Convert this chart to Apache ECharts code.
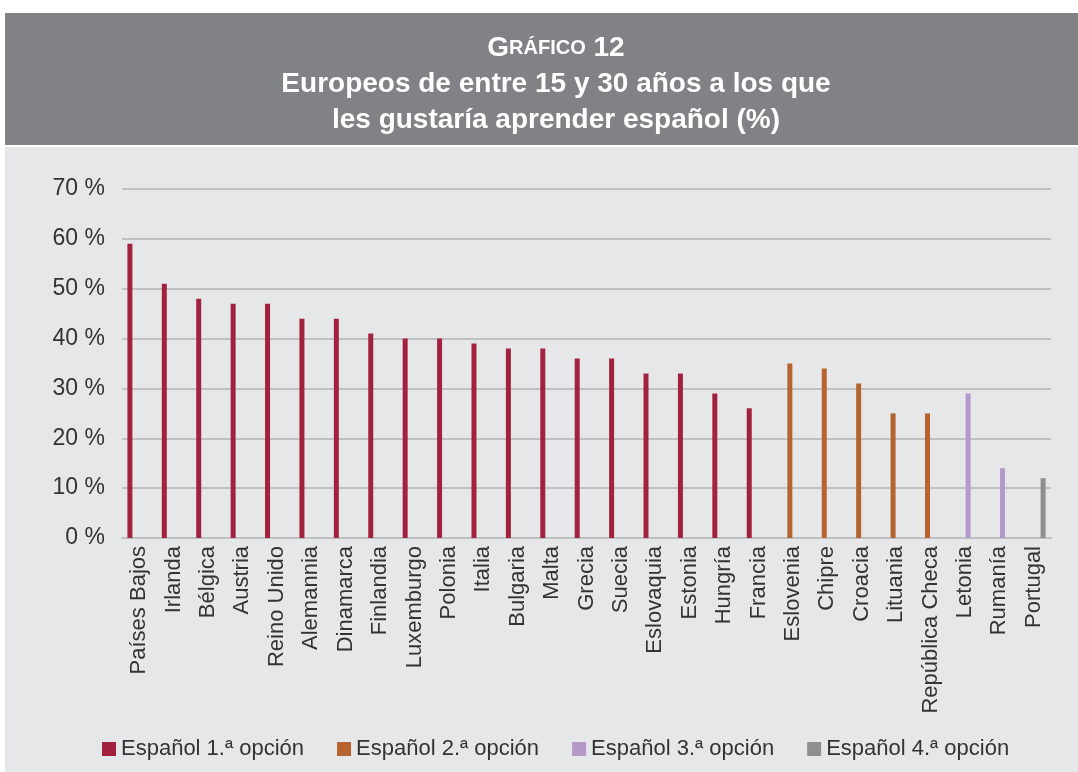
<!DOCTYPE html>
<html lang="es">
  <head>
    <meta charset="UTF-8" />
    <title>Gráfico 12</title>
    <style>
      html, body { margin: 0; padding: 0; background: #fff; }
      #main { width: 1078px; height: 772px; }
    </style>
  </head>
  <body>
    <script src="https://cdn.jsdelivr.net/npm/echarts@6/dist/echarts.min.js"></script>
    <div id="main"></div>
    <script>
      const countries = ['Países Bajos', 'Irlanda', 'Bélgica', 'Austria', 'Reino Unido', 'Alemannia',
        'Dinamarca', 'Finlandia', 'Luxemburgo', 'Polonia', 'Italia', 'Bulgaria', 'Malta', 'Grecia',
        'Suecia', 'Eslovaquia', 'Estonia', 'Hungría', 'Francia', 'Eslovenia', 'Chipre', 'Croacia',
        'Lituania', 'República Checa', 'Letonia', 'Rumanía', 'Portugal']
      const opcion1 = [59, 51, 48, 47, 47, 44, 44, 41, 40, 40, 39, 38, 38, 36, 36, 33, 33, 29, 26]
      const opcion2 = [35, 34, 31, 25, 25]
      const opcion3 = [29, 14]
      const opcion4 = [12]
      const seriesNames = ['Español 1.ª opción', 'Español 2.ª opción', 'Español 3.ª opción', 'Español 4.ª opción']
      const colors = ['#a2213f', '#b7632f', '#b59ac9', '#8e8f91']

      // each group fills its own stretch of the category axis, the rest stays null
      const groups = [opcion1, opcion2, opcion3, opcion4]
      let start = 0
      const seriesData = groups.map(g => {
        const d = countries.map(() => null)
        g.forEach((v, i) => { d[start + i] = v })
        start += g.length
        return d
      })

      const font = 'Liberation Sans, Arial, sans-serif'
      const chart = echarts.init(document.getElementById('main'))
      chart.setOption({
        backgroundColor: '#fff',
        textStyle: { fontFamily: font },
        graphic: [
          { type: 'rect', left: 5, top: 13, shape: { width: 1073, height: 132 }, style: { fill: '#818285' }, z: -10 },
          { type: 'rect', left: 5, top: 147, shape: { width: 1073, height: 625 }, style: { fill: '#e6e7e9' }, z: -10 }
        ],
        title: {
          text: '{big|G}{small|RÁFICO} {big|12}\nEuropeos de entre 15 y 30 años a los que\nles gustaría aprender español (%)',
          left: 551,
          textAlign: 'center',
          top: 25,
          textStyle: {
            color: '#fff',
            fontSize: 28,
            fontWeight: 'bold',
            lineHeight: 36,
            fontFamily: font,
            rich: {
              big: { fontSize: 28, color: '#fff', fontFamily: font, lineHeight: 36 },
              small: { fontSize: 20, color: '#fff', fontFamily: font, lineHeight: 36 }
            }
          }
        },
        legend: {
          left: 97,
          bottom: 7,
          icon: 'rect',
          itemWidth: 14,
          itemHeight: 14,
          itemGap: 33,
          textStyle: { fontSize: 22, color: '#333', fontFamily: font },
          data: seriesNames
        },
        grid: { left: 122, right: 27, top: 189, bottom: 234 },
        xAxis: {
          type: 'category',
          data: countries,
          axisLine: { lineStyle: { color: '#bfc0c2', width: 2 } },
          axisTick: { show: false },
          axisLabel: { rotate: 90, interval: 0, fontSize: 22, color: '#333', margin: 8, fontFamily: font }
        },
        yAxis: {
          type: 'value',
          min: 0,
          max: 70,
          interval: 10,
          axisLine: { show: false },
          axisTick: { show: false },
          axisLabel: { formatter: '{value} %', fontSize: 23, color: '#333', margin: 17, fontFamily: font },
          splitLine: { lineStyle: { color: '#bfc0c2', width: 2 } }
        },
        series: seriesData.map((d, i) => ({
          name: seriesNames[i],
          type: 'bar',
          data: d,
          barWidth: 5,
          barGap: '24%',
          itemStyle: { color: colors[i] }
        }))
      })
    </script>
  </body>
</html>
